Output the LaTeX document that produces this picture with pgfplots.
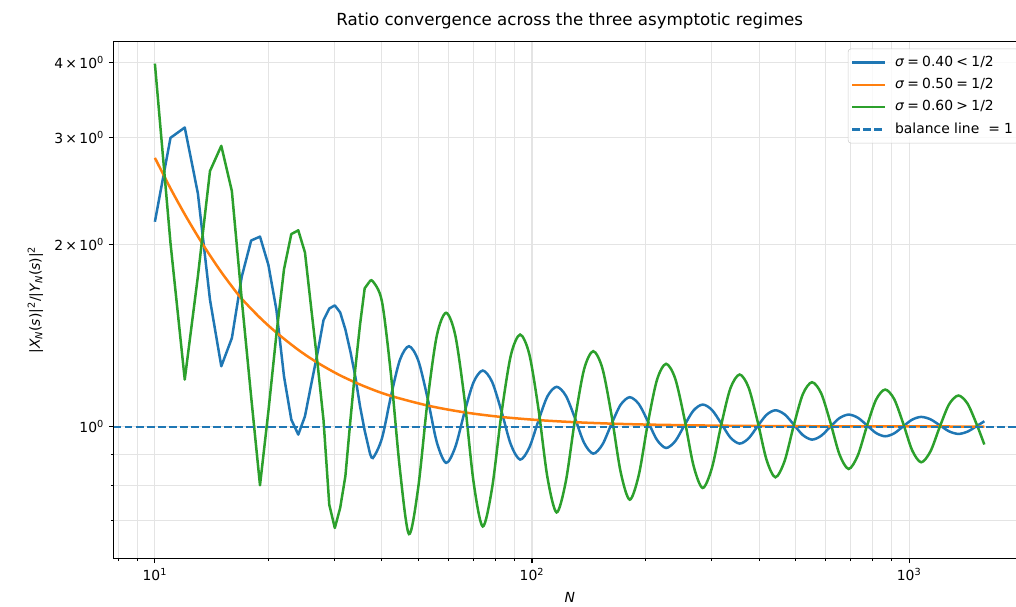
\documentclass[border=0pt]{standalone}
\usepackage{fontspec}
\setmainfont{DejaVu Sans}
\usepackage{pgfplots}
\pgfplotsset{compat=1.18}
\definecolor{mblue}{HTML}{1F77B4}
\definecolor{morange}{HTML}{FF7F0E}
\definecolor{mgreen}{HTML}{2CA02C}
\definecolor{gridc}{HTML}{E4E4E4}
\begin{document}
\begin{tikzpicture}
\useasboundingbox (-81.9pt,-35.1pt) rectangle (649.7pt,401.97pt);
\begin{axis}[
  at={(0,0)}, anchor=south west,
  scale only axis, width=656.7pt, height=371.95pt,
  xmode=log, ymode=log,
  xmin=7.78, xmax=2038, ymin=0.606, ymax=4.325,
  xtick={10,100,1000},
  xticklabels={10\textsuperscript{1},10\textsuperscript{2},10\textsuperscript{3}},
  minor xtick={8,9,20,30,40,50,60,70,80,90,200,300,400,500,600,700,800,900},
  ytick={1,2,3,4},
  yticklabels={10\textsuperscript{0},2\,×\,10\textsuperscript{0},3\,×\,10\textsuperscript{0},4\,×\,10\textsuperscript{0}},
  minor ytick={0.7,0.8,0.9},
  tick pos=left, tick align=outside,
  major tick length=3.5pt, minor tick length=2pt,
  tick style={line width=0.8pt, black},
  axis line style={line width=0.8pt, black},
  grid=both,
  major grid style={gridc, line width=0.8pt},
  minor grid style={gridc, line width=0.8pt},
  tick label style={font=\fontsize{10}{12}\selectfont},
  title={Ratio convergence across the three asymptotic regimes},
  title style={font=\fontsize{12}{14}\selectfont, at={(axis description cs:0.5,1)}, anchor=base, yshift=6pt},
  xlabel={\itshape N},
  xlabel style={font=\fontsize{10}{12}\selectfont, at={(axis description cs:0.5,0)}, anchor=base, yshift=-32.2pt},
  ylabel={|{\itshape X}\textsubscript{\itshape N}({\itshape s})|\textsuperscript{2}/|{\itshape Y}\textsubscript{\itshape N}({\itshape s})|\textsuperscript{2}},
  ylabel style={font=\fontsize{10}{12}\selectfont, at={(axis description cs:-0.0809,0.5)}, anchor=base},
  legend style={at={(1,1)}, anchor=north east, xshift=-5pt, yshift=-5pt,
    draw=black!20, rounded corners=2pt, fill=white, fill opacity=0.8, text opacity=1,
    font=\fontsize{10}{12}\selectfont, inner xsep=2pt, inner ysep=3pt, row sep=2.6pt,
    nodes={text height=7.5pt, text depth=2pt, inner sep=2pt},
    /tikz/every odd column/.append style={column sep=4.5pt}},
  legend cell align=left,
  legend image code/.code={\draw[#1] (0pt,0pt) -- (23.5pt,0pt);},
]
% sigma = 0.40
\addplot[mblue, line width=1.8pt, line join=round] coordinates {
(10,2.18) (11,3.00) (12,3.12) (13,2.43) (14,1.62) (15,1.258) (16,1.40) (17,1.77)
(18,2.03) (19,2.06) (20,1.85) (21,1.56) (22,1.21) (23,1.027) (24,0.97) (25,1.04)
(26,1.178) (27,1.324) (28,1.50) (29,1.567) (30,1.586) (31,1.544) (32,1.447)
(33,1.33) (34,1.21) (35,1.08) (36,0.985) (37,0.915)
};
\addlegendentry{{\itshape σ}\hspace{0.24em}=\hspace{0.24em}0.40\hspace{0.24em}<\hspace{0.24em}1/2}
\addplot[mblue, line width=1.8pt, smooth, forget plot] coordinates {
(37,0.915) (37.84,0.8872) (40.0,0.9561) (42.26,1.1225) (44.64,1.2888) (47.17,1.3577)
(49.92,1.2864) (52.85,1.1144) (55.92,0.9423) (59.18,0.8710) (62.59,0.9247)
(66.19,1.0544) (70.0,1.1840) (74.03,1.2377) (78.38,1.1856) (83.0,1.0598)
(87.88,0.9340) (93.0,0.8819) (98.36,0.9231) (104.0,1.0226) (109.9,1.1221)
(116.2,1.1633) (122.9,1.1251) (130.0,1.0328) (137.4,0.9404) (145.3,0.9022)
(153.7,0.9338) (162.5,1.0102) (171.8,1.0866) (181.6,1.1182) (192.0,1.0895)
(202.9,1.0201) (214.5,0.9507) (226.7,0.9219) (239.8,0.9461) (253.6,1.0047)
(268.1,1.0632) (283.5,1.0874) (300.0,1.0654) (317.4,1.0124) (335.7,0.9593)
(355.2,0.9373) (375.1,0.9559) (396.3,1.0007) (418.5,1.0455) (441.9,1.0641)
(467.5,1.0476) (494.4,1.0079) (522.6,0.9682) (552.7,0.9517) (584.5,0.9656)
(618.0,0.9992) (653.6,1.0328) (691.0,1.0467) (730.6,1.0346) (772.7,1.0053)
(817.0,0.9759) (863.8,0.9638) (912.7,0.9746) (964.3,1.0007) (1018.6,1.0267)
(1076.2,1.0375) (1139.2,1.0280) (1205.9,1.0050) (1276.1,0.9820) (1350.8,0.9725)
(1428.6,0.9811) (1510.4,1.0018) (1583,1.0205)
};
% sigma = 0.50
\addplot[morange, line width=1.8pt, smooth] coordinates {
(10,2.78) (11,2.475) (12,2.243) (13,2.062) (14,1.918) (15,1.80) (16,1.705) (17,1.626)
(19,1.513) (21,1.430) (24,1.339) (27,1.275) (31,1.215) (36,1.165) (42,1.125) (53,1.083)
(66,1.056) (82,1.038) (104,1.025) (130,1.0168) (163,1.0112) (204,1.0075) (300,1.0038)
(450,1.0018) (700,1.0008) (1100,1.0004) (1583,1.0002)
};
\addlegendentry{{\itshape σ}\hspace{0.24em}=\hspace{0.24em}0.50\hspace{0.24em}=\hspace{0.24em}1/2}
% sigma = 0.60
\addplot[mgreen, line width=1.8pt, line join=round] coordinates {
(10,3.98) (11,2.01) (12,1.196) (13,1.77) (14,2.644) (15,2.91) (16,2.45) (17,1.62)
(18,1.12) (19,0.80) (20,1.06) (21,1.42) (22,1.82) (23,2.08) (24,2.11) (25,1.94)
(26,1.56) (27,1.27) (28,1.025) (29,0.743) (30,0.680) (31,0.734) (32,0.828)
(33,1.025) (34,1.247) (35,1.475) (36,1.692) (37,1.733)
};
\addlegendentry{{\itshape σ}\hspace{0.24em}=\hspace{0.24em}0.60\hspace{0.24em}>\hspace{0.24em}1/2}
\addplot[mgreen, line width=1.8pt, smooth, forget plot] coordinates {
(37,1.733) (37.84,1.738) (40.0,1.61) (42.26,1.22) (44.64,0.85) (47.17,0.6645)
(49.92,0.7930) (52.85,1.1031) (55.92,1.4132) (59.18,1.5417) (62.59,1.4161)
(66.19,1.1128) (70.0,0.8095) (74.03,0.6839) (78.38,0.7916) (83.0,1.0515)
(87.88,1.3114) (93.0,1.4191) (98.36,1.3170) (104.0,1.0704) (109.9,0.8238)
(116.2,0.7216) (122.9,0.8110) (130.0,1.0270) (137.4,1.2429) (145.3,1.3323)
(153.7,1.2481) (162.5,1.0448) (171.8,0.8415) (181.6,0.7573) (192.0,0.8323)
(202.9,1.0135) (214.5,1.1947) (226.7,1.2697) (239.8,1.1997) (253.6,1.0308)
(268.1,0.8618) (283.5,0.7918) (300.0,0.8544) (317.4,1.0054) (335.7,1.1564)
(355.2,1.2190) (375.1,1.1612) (396.3,1.0218) (418.5,0.8823) (441.9,0.8245)
(467.5,0.8771) (494.4,1.0042) (522.6,1.1312) (552.7,1.1838) (584.5,1.1351)
(618.0,1.0175) (653.6,0.8998) (691.0,0.8511) (730.6,0.8951) (772.7,1.0012)
(817.0,1.1073) (863.8,1.1513) (912.7,1.1105) (964.3,1.0122) (1018.6,0.9138)
(1076.2,0.8730) (1139.2,0.9100) (1205.9,0.9992) (1276.1,1.0884) (1350.8,1.1254)
(1428.6,1.0912) (1510.4,1.0087) (1583,0.934)
};
% balance line
\addplot[mblue, line width=1.5pt, dash pattern=on 5.55pt off 2.4pt] coordinates {(7.78,1) (2038,1)};
\addlegendentry{balance line\hspace{0.65em}=\hspace{0.3em}1}
\end{axis}
\end{tikzpicture}
\end{document}
